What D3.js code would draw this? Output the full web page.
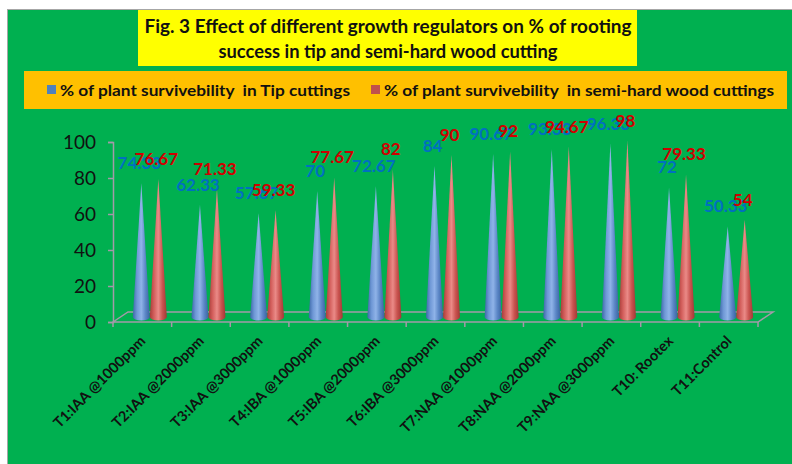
<!DOCTYPE html>
<html>
<head>
<meta charset="utf-8">
<script src="https://cdn.jsdelivr.net/npm/d3@7"></script>
<style>
  body { margin: 0; background: #fff; }
  svg { display: block; font-family: Lato, "Open Sans", sans-serif; }
  .legend-text { white-space: pre; }
</style>
</head>
<body>
<svg id="chart" width="792" height="464"></svg>
<script>
let categories = [
  "T1:IAA @1000ppm", "T2:IAA @2000ppm", "T3:IAA @3000ppm",
  "T4:IBA @1000ppm", "T5:IBA @2000ppm", "T6:IBA @3000ppm",
  "T7:NAA @1000ppm", "T8:NAA @2000ppm", "T9:NAA @3000ppm",
  "T10: Rootex", "T11:Control"
];
let tipValues = [74.33, 62.33, 57.67, 70, 72.67, 84, 90.67, 93.33, 96.33, 72, 50.33];
let semiValues = [76.67, 71.33, 59.33, 77.67, 82, 90, 92, 94.67, 98, 79.33, 54];
let yTicks = [0, 20, 40, 60, 80, 100];

let titleLines = [
  "Fig. 3 Effect of different growth regulators on % of rooting",
  "success in tip and semi-hard wood cutting"
];
let seriesNames = [
  "% of plant survivebility  in Tip cuttings",
  "% of plant survivebility  in semi-hard wood cuttings"
];

let svg = d3.select("#chart");

// background panels
svg.append("rect")
  .attr("x", 7.5).attr("y", 9.5)
  .attr("width", 800).attr("height", 470)
  .attr("fill", "#00b050")
  .attr("stroke", "#a6a6a6");

svg.append("rect")
  .attr("x", 138).attr("y", 10)
  .attr("width", 499).attr("height", 56)
  .attr("fill", "#ffff00");

svg.append("rect")
  .attr("x", 24).attr("y", 71)
  .attr("width", 763).attr("height", 38)
  .attr("fill", "#ffc000");

svg.selectAll(".title")
  .data(titleLines)
  .enter()
  .append("text")
  .attr("x", 388)
  .attr("y", (d, i) => 33 + i * 25)
  .attr("text-anchor", "middle")
  .attr("font-size", 19)
  .attr("font-weight", "bold")
  .attr("fill", "#111")
  .attr("textLength", (d, i) => i === 0 ? 487 : 339)
  .attr("lengthAdjust", "spacingAndGlyphs")
  .text(d => d);

// legend
let legendX = [47, 371];
let legendW = [290, 390];
let legendColors = ["#4f81bd", "#c0504d"];
seriesNames.forEach((name, i) => {
  svg.append("rect")
    .attr("x", legendX[i]).attr("y", 85)
    .attr("width", 9).attr("height", 9)
    .attr("fill", legendColors[i]);
  svg.append("text")
    .attr("class", "legend-text")
    .attr("x", legendX[i] + 13).attr("y", 96)
    .attr("font-size", 16)
    .attr("font-weight", "bold")
    .attr("fill", "#111")
    .attr("textLength", legendW[i])
    .attr("lengthAdjust", "spacingAndGlyphs")
    .text(name);
});

// scales
let x = d3.scaleBand().domain(categories).range([113, 758]);
let y = d3.scaleLinear().domain([0, 100]).range([322, 142]);
let depth = { dx: 15, dy: -10 };

// gradients for cones
let defs = svg.append("defs");
let grads = {
  blue: ["#3d68a8", "#6f98d6", "#8fb3e8", "#5b86c6", "#3a64a2"],
  red: ["#a83c39", "#d4605d", "#ea8a87", "#c9534f", "#a23835"]
};
Object.keys(grads).forEach(k => {
  let g = defs.append("linearGradient")
    .attr("id", "g-" + k)
    .attr("x1", 0).attr("x2", 1).attr("y1", 0).attr("y2", 0);
  grads[k].forEach((c, i, arr) => {
    g.append("stop")
      .attr("offset", i / (arr.length - 1))
      .attr("stop-color", c);
  });
});

// floor and axes
let axisColor = "#a39aa8";
let floor = svg.append("g")
  .attr("fill", "none")
  .attr("stroke", axisColor)
  .attr("stroke-width", 1.5);

let x0 = x.range()[0], x1 = x.range()[1];
floor.append("path")
  .attr("d", `M${x0},${y(0)}L${x0 + depth.dx},${y(0) + depth.dy}` +
    `L${x1 + depth.dx},${y(0) + depth.dy}L${x1},${y(0)}Z`);

let yAxis = d3.axisLeft(y)
  .tickValues(yTicks)
  .tickSize(5)
  .tickPadding(12);

let yg = svg.append("g")
  .attr("transform", `translate(${x0},0)`)
  .call(yAxis);
yg.select(".domain").attr("stroke", axisColor).attr("stroke-width", 1.5);
yg.selectAll(".tick line").attr("stroke", axisColor).attr("stroke-width", 1.5);
yg.selectAll(".tick text")
  .attr("font-size", 19)
  .attr("font-family", "Lato, sans-serif")
  .attr("fill", "#111");

// category ticks
let edges = categories.map(c => x(c)).concat([x1]);
svg.selectAll(".xtick")
  .data(edges)
  .enter()
  .append("line")
  .attr("x1", d => d).attr("x2", d => d)
  .attr("y1", y(0)).attr("y2", y(0) + 5)
  .attr("stroke", axisColor)
  .attr("stroke-width", 1.5);

svg.selectAll(".xlabel")
  .data(categories)
  .enter()
  .append("text")
  .attr("text-anchor", "end")
  .attr("font-size", 14.5)
  .attr("font-weight", "bold")
  .attr("fill", "#111")
  .attr("transform", d => `translate(${x(d) + x.bandwidth() / 2 + 4},${y(0) + 20}) rotate(-45)`)
  .text(d => d);

// cones
let coneW = 17;
let baseRy = 3.5;
let series = [
  { values: tipValues, off: -8.5, grad: "blue", label: "#0070c0" },
  { values: semiValues, off: 8.5, grad: "red", label: "#d00000" }
];

function conePath(cx, by, ty) {
  let r = coneW / 2;
  return `M${cx - r},${by}L${cx},${ty}L${cx + r},${by}` +
    `A${r},${baseRy} 0 0 1 ${cx - r},${by}Z`;
}

let cones = svg.append("g");
categories.forEach((c, i) => {
  series.forEach(s => {
    let cx = x(c) + x.bandwidth() / 2 + depth.dx / 2 + s.off;
    let by = y(0) + depth.dy / 2;
    let ty = y(s.values[i]) + depth.dy / 2;
    cones.append("path")
      .attr("d", conePath(cx, by, ty))
      .attr("fill", `url(#g-${s.grad})`);
  });
});

// data labels
let labels = svg.append("g");
series.forEach(s => {
  labels.selectAll(null)
    .data(s.values)
    .enter()
    .append("text")
    .attr("x", (d, i) => x(categories[i]) + x.bandwidth() / 2 + depth.dx / 2 + s.off - 2)
    .attr("y", d => y(d) + depth.dy / 2 - 14)
    .attr("text-anchor", "middle")
    .attr("font-size", 17)
    .attr("font-weight", "bold")
    .attr("fill", s.label)
    .text(d => d);
});
</script>
</body>
</html>
